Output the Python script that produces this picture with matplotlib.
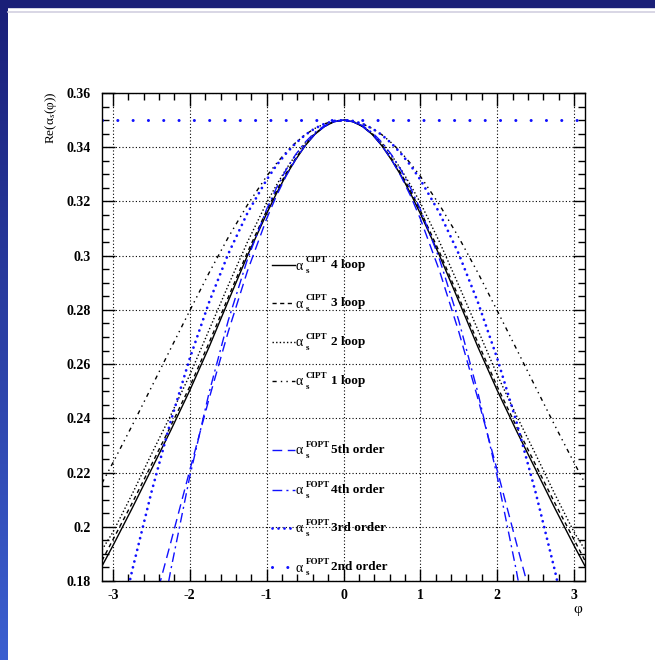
import numpy as np
import matplotlib
matplotlib.use("Agg")
import matplotlib.pyplot as plt
from matplotlib.lines import Line2D
from matplotlib.patches import Rectangle

plt.rcParams['font.family'] = ['Liberation Serif', 'DejaVu Serif']
plt.rcParams['mathtext.fontset'] = 'custom'
plt.rcParams['mathtext.rm'] = 'Liberation Serif'
plt.rcParams['mathtext.it'] = 'Liberation Serif:italic'
plt.rcParams['mathtext.bf'] = 'Liberation Serif:bold'
plt.rcParams['axes.unicode_minus'] = False

# values for phi >= 0 (curves are even in phi)
phi = [0.0, 0.125, 0.25, 0.375, 0.5, 0.625, 0.75, 0.875, 1.0, 1.25, 1.5, 1.75, 2.0, 2.25, 2.5, 2.75, 3.0, 3.1416]

cipt_4loop = [0.350, 0.3494, 0.3476, 0.3447, 0.3405, 0.3353, 0.3295, 0.3228, 0.3155,
              0.3000, 0.2832, 0.2662, 0.2503, 0.2354, 0.2211, 0.2068, 0.1930, 0.1855]
cipt_3loop = [0.350, 0.3494, 0.3477, 0.3448, 0.3408, 0.3358, 0.3302, 0.3237, 0.3166,
              0.3012, 0.2846, 0.2678, 0.2517, 0.2370, 0.2228, 0.2087, 0.1952, 0.1875]
cipt_2loop = [0.350, 0.3495, 0.3478, 0.3450, 0.3415, 0.3370, 0.3318, 0.3259, 0.3195,
              0.3050, 0.2890, 0.2725, 0.2560, 0.2410, 0.2267, 0.2120, 0.1980, 0.1915]
cipt_1loop = [0.350, 0.3497, 0.3486, 0.3469, 0.3446, 0.3416, 0.3381, 0.3339, 0.3293,
              0.3187, 0.3067, 0.2936, 0.2797, 0.2656, 0.2514, 0.2373, 0.2236, 0.2161]

fopt_5th = [0.350, 0.3494, 0.3476, 0.3447, 0.3406, 0.3354, 0.3292, 0.3219, 0.3136,
            0.2943, 0.2719, 0.2471, 0.2208, 0.1939, 0.1675, 0.1430, 0.1200, 0.1100]
fopt_4th = [0.350, 0.3495, 0.3479, 0.3454, 0.3418, 0.3372, 0.3315, 0.3248, 0.3171,
            0.2986, 0.2760, 0.2493, 0.2185, 0.1836, 0.1446, 0.1010, 0.0540, 0.0250]
fopt_3rd = [0.350, 0.3497, 0.3486, 0.3469, 0.3445, 0.3414, 0.3376, 0.3332, 0.3280,
            0.3157, 0.3006, 0.2827, 0.2621, 0.2387, 0.2126, 0.1838, 0.1522, 0.1330]
fopt_2nd = [0.350] * len(phi)

leg_kind = ['CIPT', 'CIPT', 'CIPT', 'CIPT', 'FOPT', 'FOPT', 'FOPT', 'FOPT']
leg_text = ['4 loop', '3 loop', '2 loop', '1 loop', '5th order', '4th order', '3rd order', '2nd order']


def full(v):
    v = np.asarray(v)
    return np.concatenate([v[::-1], v[1:]])


phi_full = np.concatenate([-np.asarray(phi)[::-1], np.asarray(phi)[1:]])

W, H = 655, 660
fig = plt.figure(figsize=(W / 100, H / 100), dpi=100)


def fx(px):
    return px / W


def fy(py):
    return 1 - py / H


# slide decoration: navy band on top, gradient band on the left, thin grey rule
fig.patches.append(Rectangle((0, fy(7)), 1, 7 / H, transform=fig.transFigure,
                             color='#1a1f78', zorder=0))
gax = fig.add_axes([0, 0, fx(8), 1])
grad = np.linspace(0, 1, 256).reshape(-1, 1)
gcm = matplotlib.colors.LinearSegmentedColormap.from_list('g', ['#1a1f78', '#3b5fd0'])
gax.imshow(grad, aspect='auto', cmap=gcm, extent=[0, 1, 0, 1], origin='upper')
gax.axis('off')
fig.add_artist(Line2D([fx(8), 1], [fy(11.5), fy(11.5)], transform=fig.transFigure,
                      color='#d2d0e0', lw=1.2))

ax = fig.add_axes([fx(102), fy(581), 483 / W, 488 / H])

blue = '#1010ff'
styles = [
    dict(color='black', lw=1.0, ls='-'),
    dict(color='black', lw=1.0, ls=(0, (3, 2.5))),
    dict(color='black', lw=1.0, ls=(0, (1, 1.6))),
    dict(color='black', lw=1.0, ls=(0, (3, 3, 1, 3, 1, 3))),
    dict(color=blue, lw=1.0, ls=(0, (7, 4))),
    dict(color=blue, lw=1.0, ls=(0, (7, 3, 1.5, 3))),
    dict(color=blue, lw=2.0, ls=(0, (0.01, 2.15)), dash_capstyle='round'),
    dict(color=blue, lw=2.2, ls=(0, (0.01, 5.0)), dash_capstyle='round'),
]
series = [cipt_4loop, cipt_3loop, cipt_2loop, cipt_1loop, fopt_5th, fopt_4th, fopt_3rd, fopt_2nd]
for vals, st in zip(series, styles):
    ax.plot(phi_full, full(vals), **st)

ax.set_xlim(-np.pi, np.pi)
ax.set_ylim(0.18, 0.36)
ax.set_xticks([-3, -2, -1, 0, 1, 2, 3])
ax.set_xticks(np.arange(-3.0, 3.01, 0.2), minor=True)
ax.set_yticks(np.round(np.arange(0.18, 0.361, 0.02), 2))
ax.set_yticks(np.arange(0.18, 0.3601, 0.005), minor=True)
ax.set_yticklabels(['0.18', '0.2', '0.22', '0.24', '0.26', '0.28', '0.3', '0.32', '0.34', '0.36'])
ax.tick_params(which='both', direction='in', top=True, right=True, width=1.0)
ax.tick_params(which='major', length=9, labelsize=10)
ax.tick_params(axis='y', which='major', pad=8)
ax.tick_params(axis='x', which='major', pad=6)
ax.tick_params(which='minor', length=5)
for lab in ax.get_xticklabels() + ax.get_yticklabels():
    lab.set_fontweight('bold')
ax.grid(True, which='major', color='black', lw=0.8, ls=(0, (1, 2)))
for s in ax.spines.values():
    s.set_linewidth(1.0)

fig.text(fx(51), fy(92), r'$\mathrm{Re}(\mathrm{α}_{s}(\mathrm{φ}))$',
         rotation=90, ha='center', va='top', fontsize=9.5)
fig.text(fx(578), fy(610), 'φ', ha='center', va='center', fontsize=11)

# legend drawn by hand, no frame
leg_y = [265, 303, 342, 381, 450, 490, 528, 567]
for st, kind, txt, yy in zip(styles, leg_kind, leg_text, leg_y):
    fig.add_artist(Line2D([fx(272), fx(295)], [fy(yy), fy(yy)], transform=fig.transFigure, **st))
    fig.text(fx(295), fy(yy + 1), 'α', ha='left', va='center', fontsize=10)
    fig.text(fx(305.5), fy(yy - 5), kind, ha='left', va='center', fontsize=6.5, fontweight='bold')
    fig.text(fx(305.5), fy(yy + 6), 's', ha='left', va='center', fontsize=6.5, fontweight='bold')
    fig.text(fx(331), fy(yy), txt, ha='left', va='center', fontsize=9.5, fontweight='bold')

fig.savefig('out.png', dpi=100)
